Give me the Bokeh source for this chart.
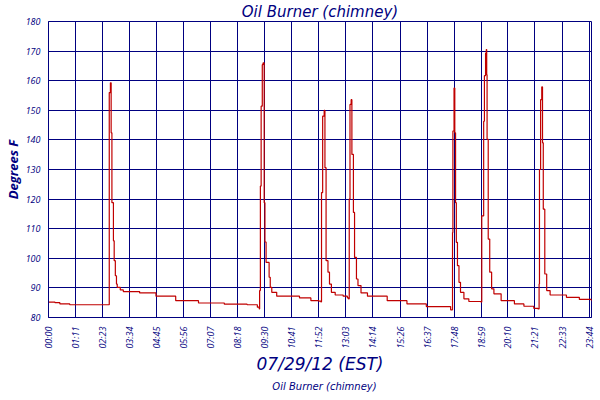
import math
from bokeh.plotting import figure
from bokeh.layouts import column
from bokeh.models import Range1d, FixedTicker, Legend, LegendItem
from bokeh.embed import file_html
from bokeh.resources import INLINE

# ---- data (minutes after midnight, degrees F) ----
times = [0, 17, 30, 56, 159.5, 160, 163, 165, 167, 171, 173, 176, 179, 181, 189, 197,
         240, 283, 335, 395, 463, 523, 550, 555,
         556, 558, 560, 563, 565, 568, 570, 573, 581, 584, 588, 601, 661, 691, 712, 717,
         719, 722, 726, 728, 731, 736, 740, 745, 755, 776, 787, 790,
         792, 794, 797, 799, 803, 806, 811, 815, 823, 840, 892, 944, 995, 1059,
         1064, 1065, 1068, 1070, 1072, 1074, 1077, 1081, 1085, 1094, 1107, 1139,
         1141, 1146, 1148, 1151, 1153, 1154, 1155, 1158, 1162, 1167, 1173, 1192, 1227, 1252, 1278, 1289,
         1292, 1293, 1296, 1299, 1301, 1303, 1307, 1312, 1321, 1364, 1398, 1430]
temps = [85.2, 85.0, 84.6, 84.3, 84.3, 156.0, 159.3, 142.4, 118.8, 105.9, 99.2, 94.1, 91.3, 90.2, 89.3, 88.75,
         88.3, 87.2, 85.7, 84.9, 84.5, 84.3, 83.5, 82.9,
         89.1, 124.4, 151.4, 165.4, 166.0, 118.8, 105.5, 98.6, 93.6, 90.2, 88.5, 87.2, 86.6, 85.7, 85.5, 85.3,
         122.2, 148.0, 150.0, 130.6, 99.2, 95.3, 91.3, 88.5, 87.6, 87.2, 86.6, 86.3,
         120.0, 152.0, 153.6, 135.1, 115.5, 100.3, 93.0, 90.8, 88.3, 87.2, 85.7, 84.6, 83.7, 82.6,
         108.7, 143.0, 157.5, 142.4, 118.8, 105.4, 97.5, 91.9, 88.5, 86.3, 85.4, 85.2,
         114.3, 146.3, 161.7, 169.3, 170.5, 162.0, 140.2, 106.5, 95.3, 89.7, 88.0, 85.7, 84.6, 83.8, 83.1, 82.9,
         91.3, 130.0, 153.6, 157.9, 139.0, 116.6, 94.7, 89.1, 87.6, 86.8, 86.1, 85.5]

tick_minutes = [0, 71, 143, 214, 285, 356, 427, 498, 570, 641, 712, 783, 854, 926, 997,
                1068, 1139, 1210, 1281, 1353, 1424]
tick_labels = ["00:00", "01:11", "02:23", "03:34", "04:45", "05:56", "07:07", "08:18", "09:30",
               "10:41", "11:52", "13:03", "14:14", "15:26", "16:37", "17:48", "18:59", "20:10",
               "21:21", "22:33", "23:44"]
y_ticks = [80, 90, 100, 110, 120, 130, 140, 150, 160, 170, 180]
series_name = "Oil Burner (chimney)"

NAVY = "#000080"
RED = "#c00000"
TICKFONT = "Open Sans"
FONT = "DejaVu Sans"

p = figure(frame_width=543, frame_height=296, output_backend="svg", toolbar_location=None,
           x_range=Range1d(0, 1430), y_range=Range1d(80, 180),
           min_border_left=30, min_border_right=6, min_border_top=14, min_border_bottom=0,
           background_fill_color="white", border_fill_color="white")

p.title.text = "Oil Burner (chimney)"
p.title.align = "center"
p.title.text_font = FONT
p.title.text_font_style = "italic"
p.title.text_font_size = "15px"
p.title.text_color = NAVY
p.title.standoff = 1

r = p.step(times, temps, mode="after", line_color=RED, line_width=1.2)

xt = FixedTicker(ticks=tick_minutes)
yt = FixedTicker(ticks=y_ticks)
p.xaxis.ticker = xt
p.yaxis.ticker = yt
p.xgrid.ticker = xt
p.ygrid.ticker = yt
for g in (p.xgrid, p.ygrid):
    g.grid_line_color = NAVY
    g.grid_line_alpha = 1.0
    g.grid_line_width = 1

p.xaxis.major_label_overrides = {t: l for t, l in zip(tick_minutes, tick_labels)}
p.xaxis.major_label_orientation = math.pi / 2
p.xaxis.axis_label = "07/29/12 (EST)"
p.yaxis.axis_label = "Degrees F"

for ax in (p.xaxis, p.yaxis):
    ax.axis_line_color = NAVY
    ax.major_tick_line_color = None
    ax.minor_tick_line_color = None
    ax.major_label_text_font = TICKFONT
    ax.major_label_text_font_style = "italic"
    ax.major_label_text_font_size = "9px"
    ax.major_label_text_color = NAVY
    ax.axis_label_text_color = NAVY
    ax.major_label_standoff = 3

p.xaxis.axis_label_text_font = FONT
p.xaxis.axis_label_text_font_style = "italic"
p.xaxis.axis_label_text_font_size = "17px"
p.xaxis.axis_label_standoff = 2
p.yaxis.axis_label_text_font = TICKFONT
p.yaxis.axis_label_text_font_style = "bold italic"
p.yaxis.axis_label_text_font_size = "13px"
p.yaxis.axis_label_standoff = 1
p.yaxis.major_label_standoff = 2

p.outline_line_color = NAVY
p.outline_line_alpha = 1.0

# ---- legend strip below the chart ----
p2 = figure(width=592, height=20, output_backend="svg", toolbar_location=None,
            x_range=Range1d(0, 1), y_range=Range1d(0, 1),
            x_axis_location=None, y_axis_location=None, min_border=0,
            outline_line_color=None, background_fill_color="white", border_fill_color="white")
p2.grid.visible = False
r2 = p2.line(x=[], y=[], line_color=RED, line_width=2)
legend = Legend(items=[LegendItem(label=series_name, renderers=[r2])],
                orientation="horizontal", location="center",
                border_line_color=None, background_fill_alpha=0,
                label_text_font=FONT, label_text_font_style="italic",
                label_text_font_size="10px", label_text_color=NAVY,
                glyph_width=12, glyph_height=10, padding=0, margin=0, label_standoff=3,
                label_height=12)
p2.add_layout(legend)

layout = column(p, p2, spacing=0)
open("out.html", "w").write(file_html(layout, INLINE))
